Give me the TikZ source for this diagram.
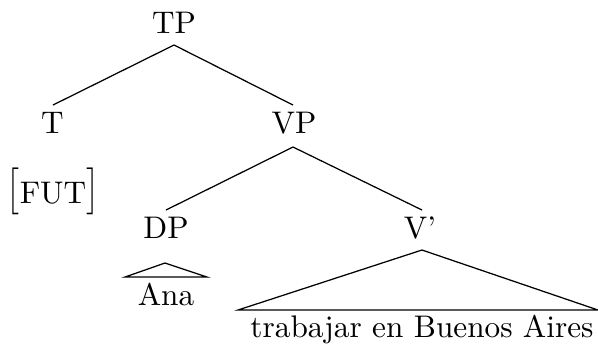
\documentclass[tikz,border=0pt]{standalone}
\usepackage{graphicx}
\usetikzlibrary{calc}
\begin{document}
\begin{tikzpicture}[x=0.32pt,y=-0.32pt,
  lbl/.style={anchor=base, inner sep=0pt, outer sep=0pt, font=\fontsize{10}{12}\selectfont},
  edge/.style={line width=0.4pt, line join=miter}]
\useasboundingbox (0,0) rectangle (598,349);
% labels
\node[lbl] (TP)   at (174,33)  {TP};
\node[lbl] (T)    at (52.5,133) {T};
\node[lbl] (VP)   at (294,133) {VP};
\node[lbl] (FUT)  at (53,203)  {$\raisebox{0.55pt}{\scalebox{1}[1.25]{$\big[$}}\mbox{FUT}\raisebox{0.55pt}{\scalebox{1}[1.25]{$\big]$}}$};
\node[lbl] (DP)   at (166,238) {DP};
\node[lbl] (Vbar) at (420,238) {V'};
\node[lbl] (Ana)  at (166,305) {Ana};
\node[lbl] (VC)   at (422,337) {trabajar en Buenos Aires};
% branches
\draw[edge] ($(TP.base)+(0,12)$) -- ($(T.base)+(0.5,-28)$);
\draw[edge] ($(TP.base)+(0,12)$) -- ($(VP.base)+(-1,-28)$);
\draw[edge] ($(VP.base)+(-1,14)$) -- ($(DP.base)+(0,-28)$);
\draw[edge] ($(VP.base)+(-1,14)$) -- ($(Vbar.base)+(2,-28)$);
% triangles
\draw[edge] ($(Ana.base)+(-1,-42)$) -- ($(Ana.base)+(-41,-28)$) -- ($(Ana.base)+(41,-28)$) -- cycle;
\draw[edge] ($(Vbar.base)+(2,12)$) -- ($(VC.base)+(-184,-27)$) -- ($(VC.base)+(176,-27)$) -- cycle;
\end{tikzpicture}
\end{document}
